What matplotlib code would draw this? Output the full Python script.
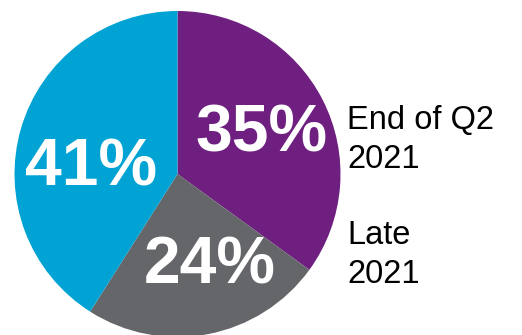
import matplotlib
matplotlib.use("Agg")
import matplotlib.pyplot as plt

categories = ["End of Q2\n2021", "Late\n2021", ""]
values = [35, 24, 41]
colors = ["#6E1F80", "#64666A", "#00A3D3"]

W, H = 522, 335
fig = plt.figure(figsize=(W / 100, H / 100), dpi=100)
fig.patch.set_facecolor("white")

# pie centre (177.5, 174) px from top-left, radius 163 px
cx, cy, r = 177.5, 174, 163
ax = fig.add_axes([(cx - r) / W, (H - cy - r) / H, 2 * r / W, 2 * r / H])
ax.set_xlim(-1, 1)
ax.set_ylim(-1, 1)
ax.axis("off")

wedges, texts, autotexts = ax.pie(
    values, colors=colors, startangle=90, counterclock=False, radius=1,
    autopct=lambda p: f"{p:.0f}%", pctdistance=0.56,
    textprops=dict(color="white", fontsize=47.5, fontweight="bold",
                   family=["Liberation Sans", "DejaVu Sans"]),
    wedgeprops=dict(linewidth=0),
)
ax.set_xlim(-1, 1)
ax.set_ylim(-1, 1)

# label placements (pixel centres from reference)
label_px = [(261.5, 135), (210, 267), (91, 168)]
for t, (px, py) in zip(autotexts, label_px):
    t.set_position(((px - cx) / r, (cy - py) / r))
    t.set_ha("center")
    t.set_va("center")

# side labels (baseline of last line)
side_pos = [(347, 168), (347, 283)]
for cat, (px, py) in zip(categories[:2], side_pos):
    fig.text(px / W, 1 - py / H, cat, ha="left", va="baseline",
             fontsize=23.5, color="black", linespacing=1.33,
             family=["Liberation Sans", "DejaVu Sans"])

fig.savefig("out.png", dpi=100, facecolor="white")
